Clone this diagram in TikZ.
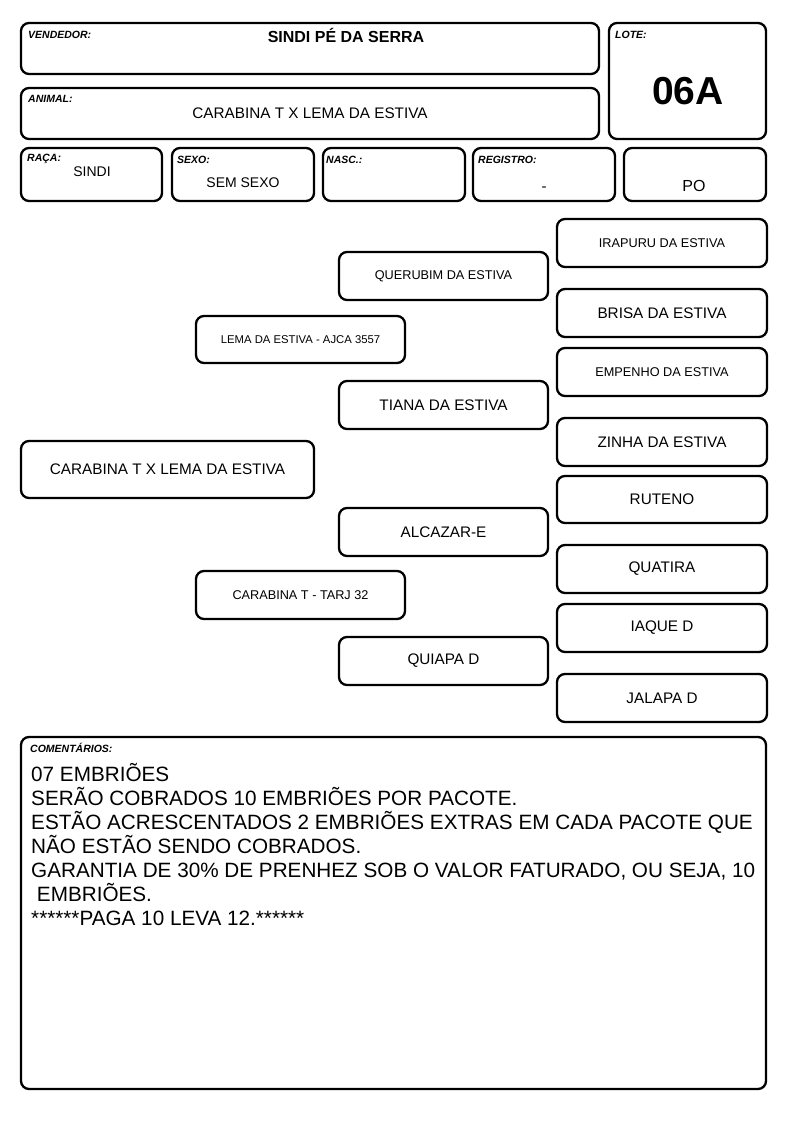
\documentclass[tikz,border=0pt]{standalone}
\usepackage{fontspec}
\setmainfont{Liberation Sans}
\begin{document}
\begin{tikzpicture}[x=1pt,y=-1pt,
  box/.style={draw=black, line width=2.3pt, rounded corners=8pt, inner sep=0pt, fill=white},
  lbl/.style={anchor=base west, inner sep=0pt, font=\fontsize{10.5}{12}\selectfont\bfseries\itshape},
  txt/.style={inner sep=0pt, font=\fontsize{15.3}{18}\selectfont},
  sm/.style={inner sep=0pt, font=\fontsize{12.7}{15}\selectfont}]
\useasboundingbox[fill=white] (0,0) rectangle (794,1123);
% header
\node[box, minimum width=578pt, minimum height=51pt] (vend) at (310,48.5) {};
\node[lbl] (vendl) at (28,39) {VENDEDOR:};
\node[inner sep=0pt, anchor=base, font=\fontsize{16}{18}\selectfont\bfseries] (vendt) at (346,43) {SINDI PÉ DA SERRA};
\node[box, minimum width=157pt, minimum height=116pt] (lote) at (687.5,81) {};
\node[lbl] (lotel) at (615,39) {LOTE:};
\node[inner sep=0pt, anchor=base, font=\fontsize{39}{44}\selectfont\bfseries] (lotet) at (688,105) {06A};
\node[box, minimum width=578pt, minimum height=51pt] (anim) at (310,113.5) {};
\node[lbl] (animl) at (28,103) {ANIMAL:};
\node[txt, anchor=base] (animt) at (310,119) {CARABINA T X LEMA DA ESTIVA};
\node[box, minimum width=141pt, minimum height=53pt] (raca) at (91.5,174.5) {};
\node[lbl] (racal) at (27,162) {RAÇA:};
\node[inner sep=0pt, anchor=base, font=\fontsize{14}{16}\selectfont] (racat) at (92,177) {SINDI};
\node[box, minimum width=142pt, minimum height=53pt] (sexo) at (243,174.5) {};
\node[lbl] (sexol) at (177,164) {SEXO:};
\node[inner sep=0pt, anchor=base, font=\fontsize{14}{16}\selectfont] (sexot) at (243,188) {SEM SEXO};
\node[box, minimum width=142pt, minimum height=53pt] (nasc) at (394,174.5) {};
\node[lbl] (nascl) at (326,164) {NASC.:};
\node[box, minimum width=142pt, minimum height=53pt] (reg) at (544,174.5) {};
\node[lbl] (regl) at (478,164) {REGISTRO:};
\node[inner sep=0pt, anchor=base, font=\fontsize{15}{16}\selectfont] (regt) at (544,192) {-};
\node[box, minimum width=142pt, minimum height=53pt] (po) at (695,174.5) {};
\node[inner sep=0pt, anchor=base, font=\fontsize{16}{18}\selectfont] (pot) at (694,192) {PO};
% pedigree
\node[box, minimum width=293pt, minimum height=57pt] (main) at (167.5,469.5) {};
\node[txt] at (main.center) {CARABINA T X LEMA DA ESTIVA};
\node[box, minimum width=209pt, minimum height=47pt] (lema) at (300.5,339.5) {};
\node[inner sep=0pt, font=\fontsize{11.3}{14}\selectfont] at (lema.center) {LEMA DA ESTIVA - AJCA 3557};
\node[box, minimum width=209pt, minimum height=48pt] (carab) at (300.5,595) {};
\node[sm] at (carab.center) {CARABINA T - TARJ 32};
\node[box, minimum width=209pt, minimum height=48pt] (quer) at (443.5,276) {};
\node[sm] at (quer.center) {QUERUBIM DA ESTIVA};
\node[box, minimum width=209pt, minimum height=48pt] (tiana) at (443.5,405) {};
\node[txt] at (tiana.center) {TIANA DA ESTIVA};
\node[box, minimum width=209pt, minimum height=48pt] (alc) at (443.5,532) {};
\node[txt] at (alc.center) {ALCAZAR-E};
\node[box, minimum width=209pt, minimum height=48pt] (quia) at (443.5,661) {};
\node[txt] at (quia.center) {QUIAPA D};
\node[box, minimum width=210pt, minimum height=48pt] (irap) at (662,243) {};
\node[sm] at (irap.center) {IRAPURU DA ESTIVA};
\node[box, minimum width=210pt, minimum height=48pt] (brisa) at (662,313) {};
\node[txt] at (brisa.center) {BRISA DA ESTIVA};
\node[box, minimum width=210pt, minimum height=48pt] (emp) at (662,372) {};
\node[sm] at (emp.center) {EMPENHO DA ESTIVA};
\node[box, minimum width=210pt, minimum height=48pt] (zinha) at (662,442) {};
\node[txt] at (zinha.center) {ZINHA DA ESTIVA};
\node[box, minimum width=210pt, minimum height=47pt] (rut) at (662,499.5) {};
\node[txt] at (rut.center) {RUTENO};
\node[box, minimum width=210pt, minimum height=48pt] (quat) at (662,569) {};
\node[txt] at (quat.center) {QUATIRA};
\node[box, minimum width=210pt, minimum height=48pt] (iaq) at (662,628) {};
\node[txt] at (iaq.center) {IAQUE D};
\node[box, minimum width=210pt, minimum height=48pt] (jal) at (662,698) {};
\node[txt] at (jal.center) {JALAPA D};
% comments
\node[box, minimum width=745pt, minimum height=352pt] (com) at (393.5,913) {};
\node[lbl] (coml) at (30,752) {COMENTÁRIOS:};
\node[inner sep=0pt, anchor=base west, align=left, font=\fontsize{20.7}{24}\selectfont] (comt) at (31,925) {07 EMBRIÕES\\SERÃO COBRADOS 10 EMBRIÕES POR PACOTE.\\ESTÃO ACRESCENTADOS 2 EMBRIÕES EXTRAS EM CADA PACOTE QUE\\NÃO ESTÃO SENDO COBRADOS.\\GARANTIA DE 30\% DE PRENHEZ SOB O VALOR FATURADO, OU SEJA, 10\\\ EMBRIÕES.\\******PAGA 10 LEVA 12.******};
\end{tikzpicture}
\end{document}
